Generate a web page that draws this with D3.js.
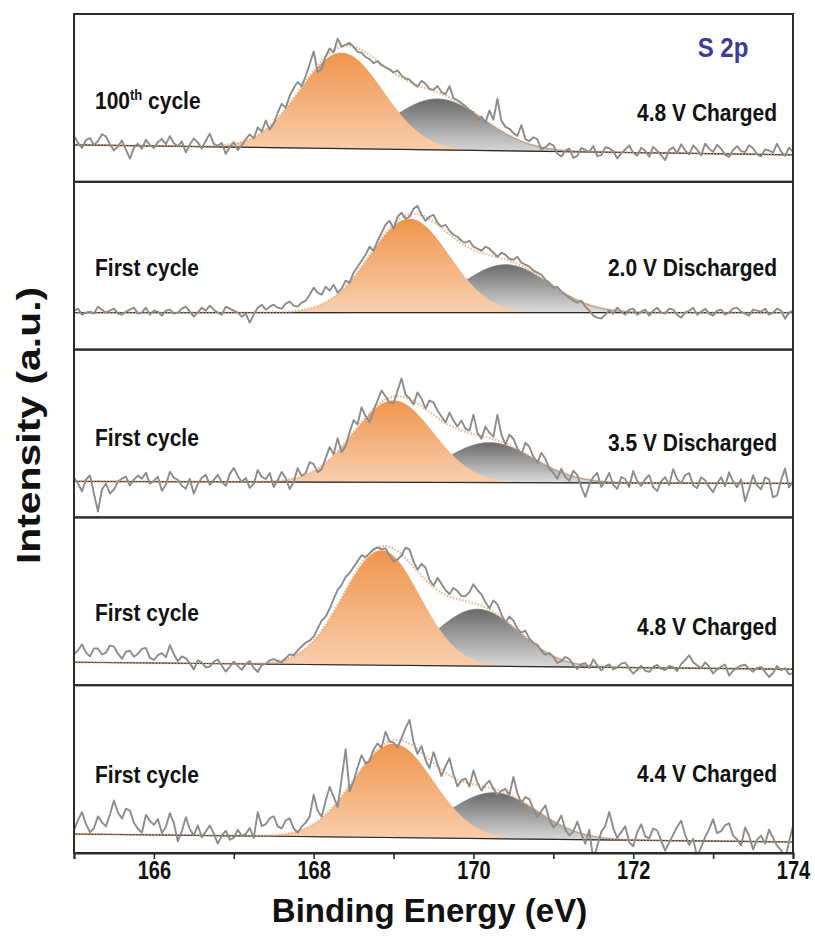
<!DOCTYPE html>
<html>
<head>
<meta charset="utf-8">
<script src="https://cdn.jsdelivr.net/npm/d3@7/dist/d3.min.js"></script>
<style>
  body { margin: 0; background: #fff; }
  text { font-family: "Liberation Sans", Arial, sans-serif; font-weight: bold; }
</style>
</head>
<body>
<div id="chart"></div>
<script>
// ---- data ----
var energyStart = 165, energyStep = 0.05;
var xTicks = [165, 166, 167, 168, 169, 170, 171, 172, 173, 174];
var xTickLabels = ["", "166", "", "168", "", "170", "", "172", "", "174"];

var cycleLabels = ["100th cycle", "First cycle", "First cycle", "First cycle", "First cycle"];
var stateLabels = ["4.8 V Charged", "2.0 V Discharged", "3.5 V Discharged", "4.8 V Charged", "4.4 V Charged"];

// linear background, intensity at 165 eV and at 174 eV
var bgStart = [37, 37, 36, 23, 19];
var bgEnd   = [27, 37, 34, 16, 11];

// S 2p3/2 (orange) and S 2p1/2 (grey) fitted components
var p1Center = [168.35, 169.2, 169.0, 168.85, 169.0];
var p1Height = [96, 94, 82, 115, 94];
var p1Sigma  = [0.52, 0.5, 0.5, 0.48, 0.5];
var p2Center = [169.55, 170.4, 170.2, 170.05, 170.25];
var p2Height = [51, 48, 40, 57, 46];
var p2Sigma  = [0.58, 0.55, 0.55, 0.52, 0.55];

// raw spectra above background, 165.00 .. 174.00 eV, one row per eV
var raw100th48 = [
  9,2,-3,5,7,0,4,11,9,1,-5,-1,5,-4,-13,-2,2,-3,6,1,
  -2,4,7,2,10,3,0,5,-6,2,8,4,-2,6,13,3,1,4,-7,0,
  5,-3,2,8,13,9,20,16,27,18,24,35,44,40,52,60,66,62,72,84,
  97,76,80,92,100,96,110,102,104,106,102,97,96,92,90,86,88,84,82,80,
  77,79,74,71,70,66,63,69,66,61,60,64,58,56,64,52,50,47,44,40,
  38,30,34,28,40,31,52,30,24,22,18,15,26,12,10,14,12,2,4,8,
  6,-2,-5,1,3,-6,-4,4,2,0,6,-4,-3,5,4,1,-6,-1,3,7,
  0,-3,5,2,-4,6,2,-2,-7,3,6,0,9,3,-1,8,4,-2,10,5,
  2,9,5,-1,-3,4,8,3,2,9,6,0,-2,5,4,2,11,3,-1,7,
  3];
var rawFirst20 = [
  2,4,-2,0,1,-1,6,3,0,2,4,-1,-2,1,3,5,-1,0,5,-2,
  2,1,-3,2,3,-1,0,4,6,1,-4,0,5,2,7,3,0,-2,6,4,
  2,0,-4,-1,-10,-2,5,8,3,6,8,5,4,9,11,7,6,10,12,18,
  25,20,18,26,22,28,20,24,32,30,40,46,52,58,66,62,72,80,88,92,
  84,96,100,94,96,104,107,98,92,96,98,90,86,88,82,78,76,72,70,72,
  66,64,62,66,64,60,56,60,58,54,53,56,50,48,46,42,40,38,33,30,
  25,26,21,18,15,12,10,12,6,2,-3,-5,-6,-2,2,-1,5,1,-2,3,
  4,-2,1,3,-3,2,5,0,-1,4,3,-2,-5,0,2,5,-2,1,4,-1,
  -3,2,3,-2,0,4,5,1,-1,-3,3,2,1,4,-2,0,4,2,-6,0,
  2];
var rawFirst35 = [
  4,-2,-10,2,6,-12,-30,-8,-2,-12,-8,0,3,5,-4,2,6,3,9,-2,
  1,5,-9,-3,10,4,2,-4,-7,3,-12,-2,4,7,-3,2,7,0,-4,8,
  14,6,0,4,-6,-2,12,5,3,9,-5,2,10,4,-7,0,14,6,9,20,
  18,10,13,24,35,28,44,30,36,50,62,58,75,66,60,72,82,92,86,80,
  79,92,104,88,84,78,90,84,74,82,80,72,66,60,70,62,56,62,54,52,
  68,50,44,56,50,46,68,48,38,48,44,34,28,40,36,26,20,30,24,14,
  10,4,14,6,2,12,8,-4,-14,-2,6,10,-4,2,10,-2,-6,6,4,-4,
  12,2,-3,4,8,-4,-8,2,6,-2,14,4,0,8,10,-2,-5,6,3,-4,
  -9,0,6,-3,11,2,-4,4,-18,-6,8,-2,-6,6,4,-14,-12,3,15,-4,
  2];
var rawFirst48 = [
  8,12,18,10,6,14,14,8,10,17,16,9,4,11,12,6,9,14,15,5,
  3,8,10,6,18,9,2,7,5,0,-6,3,1,-4,-3,2,4,-2,-8,-3,
  2,-2,-6,0,3,-4,-8,-1,0,4,5,3,2,6,10,9,14,18,22,24,
  28,36,44,48,56,66,75,80,88,92,98,104,110,108,112,116,118,116,117,110,
  104,106,110,118,116,104,96,102,98,86,80,88,82,76,72,78,75,70,70,74,
  82,76,72,64,58,66,62,52,44,50,46,38,34,36,28,24,22,16,12,14,
  10,4,6,10,8,2,-2,3,4,-1,8,2,-3,1,3,-2,0,4,5,-1,
  -6,-2,2,-3,-4,1,3,-1,-2,2,1,-3,4,8,13,6,3,0,6,2,
  -5,-1,2,4,-7,-2,1,3,4,0,-3,1,2,-3,-8,-4,3,-1,1,-5,
  -4];
var rawFirst44 = [
  4,14,22,10,2,6,18,12,8,20,34,22,16,26,24,12,6,2,20,14,
  10,16,2,8,22,12,-6,4,18,6,0,10,-2,4,10,2,-8,0,5,-4,
  -2,6,0,2,8,-2,24,10,12,18,20,10,8,16,18,8,4,10,14,20,
  42,26,20,36,50,40,30,58,88,46,56,70,82,74,76,88,94,90,106,96,
  95,90,100,110,118,96,84,92,78,70,86,74,62,72,80,64,52,58,60,52,
  68,56,48,54,58,50,44,48,50,44,62,46,36,42,40,30,22,28,34,20,
  12,16,24,10,4,8,18,6,-4,10,-20,-6,8,14,28,12,2,8,14,-2,
  -6,8,16,4,2,12,10,0,-10,-2,6,14,20,6,-4,2,-16,-6,4,12,
  22,8,10,16,18,6,2,-4,14,6,-8,2,6,-2,12,4,-4,-8,-18,0,
  16];
var rawSpectra = [raw100th48, rawFirst20, rawFirst35, rawFirst48, rawFirst44];

// ---- layout ----
var W = 815, H = 936;
var margin = {top: 14, right: 22, bottom: 83, left: 74};
var plotW = W - margin.left - margin.right,
    plotH = H - margin.top - margin.bottom;
var nPanels = rawSpectra.length;
var panelH = plotH / nPanels;
var leftLabelY  = [95, 94, 96, 104, 98];
var rightLabelY = [107, 94, 101, 118, 97];

var svg = d3.select("#chart").append("svg")
    .attr("width", W).attr("height", H);

var defs = svg.append("defs");
var gO = defs.append("linearGradient").attr("id", "gradOrange")
    .attr("x1", 0).attr("y1", 0).attr("x2", 0).attr("y2", 1);
gO.append("stop").attr("offset", "0%").attr("stop-color", "#f0954c");
gO.append("stop").attr("offset", "100%").attr("stop-color", "#f9d0b0");
var gG = defs.append("linearGradient").attr("id", "gradGrey")
    .attr("x1", 0).attr("y1", 0).attr("x2", 0).attr("y2", 1);
gG.append("stop").attr("offset", "0%").attr("stop-color", "#6a6a6a");
gG.append("stop").attr("offset", "100%").attr("stop-color", "#dedede");

var x = d3.scaleLinear().domain([165, 174]).range([margin.left, margin.left + plotW]);

var fineGrid = d3.range(165, 174.0001, 0.02);
function gauss(e, c, h, s) { return h * Math.exp(-(e - c) * (e - c) / (2 * s * s)); }

rawSpectra.forEach(function(raw, i) {
  var top = margin.top + i * panelH;
  var y = d3.scaleLinear().domain([0, 168]).range([top + panelH, top]);
  var bg = function(e) { return bgStart[i] + (bgEnd[i] - bgStart[i]) * (e - 165) / 9; };

  var g = svg.append("g");
  defs.append("clipPath").attr("id", "clip" + i).append("rect")
      .attr("x", margin.left).attr("y", top).attr("width", plotW).attr("height", panelH);
  var body = g.append("g").attr("clip-path", "url(#clip" + i + ")");

  var grey = d3.area()
      .x(function(e) { return x(e); })
      .y0(function(e) { return y(bg(e)); })
      .y1(function(e) { return y(bg(e) + gauss(e, p2Center[i], p2Height[i], p2Sigma[i])); });
  var orange = d3.area()
      .x(function(e) { return x(e); })
      .y0(function(e) { return y(bg(e)); })
      .y1(function(e) { return y(bg(e) + gauss(e, p1Center[i], p1Height[i], p1Sigma[i])); });

  body.append("path").datum(fineGrid).attr("d", grey)
      .attr("fill", "url(#gradGrey)").attr("stroke", "#7a7a7a").attr("stroke-width", 0.8);
  body.append("path").datum(fineGrid).attr("d", orange)
      .attr("fill", "url(#gradOrange)").attr("stroke", "none");

  // background line
  body.append("path").datum([165, 174])
      .attr("d", d3.line().x(function(e) { return x(e); }).y(function(e) { return y(bg(e)); }))
      .attr("fill", "none").attr("stroke", "#2a2a2a").attr("stroke-width", 1.2);

  // fit envelope (dotted)
  body.append("path").datum(fineGrid)
      .attr("d", d3.line().x(function(e) { return x(e); })
        .y(function(e) {
          return y(bg(e) + gauss(e, p1Center[i], p1Height[i], p1Sigma[i]) +
                   gauss(e, p2Center[i], p2Height[i], p2Sigma[i]));
        }))
      .attr("fill", "none").attr("stroke", "#eaa77a").attr("stroke-width", 2.4)
      .attr("stroke-dasharray", "1.6,1.6").attr("opacity", 0.75);

  // raw spectrum
  body.append("path").datum(raw)
      .attr("d", d3.line()
        .x(function(v, k) { return x(energyStart + k * energyStep); })
        .y(function(v, k) { return y(bg(energyStart + k * energyStep) + v); }))
      .attr("fill", "none").attr("stroke", "#8c8c8c").attr("stroke-width", 1.9)
      .attr("stroke-linejoin", "round");

  // frame
  g.append("rect").attr("x", margin.left).attr("y", top)
      .attr("width", plotW).attr("height", panelH)
      .attr("fill", "none").attr("stroke", "#2b2b2b").attr("stroke-width", 2);

  // labels
  var lt = g.append("text")
      .attr("transform", "translate(" + (margin.left + 21) + "," + (top + leftLabelY[i]) + ") scale(1,1.15)")
      .attr("font-size", 21).attr("fill", "#111");
  var m = cycleLabels[i].match(/^(\d+)(th)(.*)$/);
  if (m) {
    lt.append("tspan").text(m[1]);
    lt.append("tspan").text(m[2]).attr("font-size", 13).attr("dy", -8);
    lt.append("tspan").text(m[3]).attr("dy", 8);
  } else {
    lt.text(cycleLabels[i]);
  }
  g.append("text")
      .attr("transform", "translate(" + (margin.left + plotW - 16) + "," + (top + rightLabelY[i]) + ") scale(1,1.15)")
      .attr("text-anchor", "end").attr("font-size", 21).attr("fill", "#111")
      .text(stateLabels[i]);
});

// S 2p tag
svg.append("text")
    .attr("transform", "translate(" + 723 + "," + 57 + ") scale(1,1.15)")
    .attr("text-anchor", "middle").attr("font-size", 24).attr("fill", "#3c3c96")
    .text("S 2p");

// bottom axis
var axis = svg.append("g")
    .attr("transform", "translate(0," + (margin.top + plotH) + ")")
    .call(d3.axisBottom(x).tickValues(xTicks)
      .tickSize(6).tickFormat(function(d, k) { return xTickLabels[k]; }));
axis.select(".domain").attr("stroke", "#2b2b2b").attr("stroke-width", 2);
axis.selectAll(".tick line").attr("stroke", "#2b2b2b").attr("stroke-width", 1.6);
axis.selectAll(".tick text")
    .attr("font-size", 20).attr("fill", "#111")
    .attr("font-family", "'Liberation Sans', Arial, sans-serif").attr("font-weight", "bold")
    .attr("y", 0).attr("dy", 0)
    .attr("transform", "translate(0,26) scale(1,1.3)");

svg.append("text")
    .attr("x", margin.left + plotW / 2 - 4).attr("y", 922)
    .attr("text-anchor", "middle").attr("font-size", 33).attr("fill", "#111")
    .text("Binding Energy (eV)");

svg.append("text")
    .attr("transform", "translate(" + 40 + "," + (margin.top + plotH / 2 - 8) + ") rotate(-90) scale(1.24,1)")
    .attr("text-anchor", "middle").attr("font-size", 33).attr("fill", "#111")
    .text("Intensity (a.u.)");
</script>
</body>
</html>
